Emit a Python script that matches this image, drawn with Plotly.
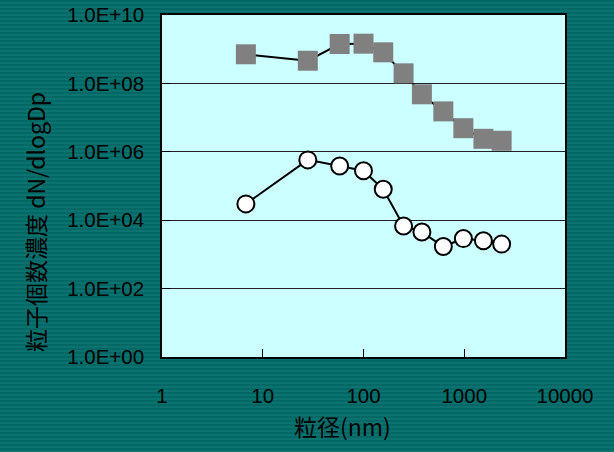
import plotly.graph_objects as go

# Data
diameter_nm = [6.8, 28, 58, 100, 157, 250, 380, 620, 980, 1550, 2350]
series_square = [7.1e8, 4.6e8, 1.42e9, 1.45e9, 8.1e8, 1.97e8, 4.8e7, 1.52e7, 4.9e6, 2.4e6, 2.1e6]
series_circle = [3.0e4, 5.8e5, 3.85e5, 2.8e5, 8.0e4, 6.8e3, 4.5e3, 1.7e3, 2.9e3, 2.5e3, 2.0e3]

x_tickvals = [1, 10, 100, 1000, 10000]
x_ticktext = ["1", "10", "100", "1000", "10000"]
y_tickvals = [1e0, 1e2, 1e4, 1e6, 1e8, 1e10]
y_ticktext = ["1.0E+00", "1.0E+02", "1.0E+04", "1.0E+06", "1.0E+08", "1.0E+10"]

x_title = "粒径(nm)"
y_title = "粒子個数濃度 dN/dlogDp"

font_main = "Liberation Sans, Arial, Noto Sans CJK JP, sans-serif"
font_cjk = "Noto Sans CJK JP, sans-serif"

fig = go.Figure()
fig.add_trace(go.Scatter(
    x=diameter_nm, y=series_square, mode="lines+markers",
    line=dict(color="black", width=2),
    marker=dict(symbol="square", size=20, color="#808080", line=dict(width=0)),
    showlegend=False,
))
fig.add_trace(go.Scatter(
    x=diameter_nm, y=series_circle, mode="lines+markers",
    line=dict(color="black", width=2),
    marker=dict(symbol="circle", size=17, color="white", line=dict(color="black", width=2)),
    showlegend=False,
))

# subtle striped teal background (decoration only)
PL, PR, PT, PB = 162, 565, 15, 357
pw, ph = PR - PL, PB - PT
shapes = []
for i in range(0, 452, 4):
    shapes.append(dict(type="rect", xref="paper", yref="paper", layer="below",
                       x0=-PL / pw, x1=(614 - PL) / pw,
                       y0=(PB - i - 2) / ph, y1=(PB - i) / ph,
                       fillcolor="#026865", line=dict(width=0)))
# plot-area fill drawn over the stripes
shapes.append(dict(type="rect", xref="paper", yref="paper", layer="below",
                   x0=0, x1=1, y0=0, y1=1, fillcolor="#ccffff", line=dict(width=0)))

fig.update_layout(
    width=614, height=452,
    margin=dict(l=PL, r=614 - PR, t=PT, b=452 - PB),
    paper_bgcolor="#0a7370",
    plot_bgcolor="#ccffff",
    font=dict(family=font_main, size=20, color="black"),
    shapes=shapes,
    xaxis=dict(
        type="log", range=[0, 4], automargin=False,
        tickvals=x_tickvals, ticktext=x_ticktext,
        ticks="inside", ticklen=8, tickcolor="black", tickwidth=1,
        showgrid=False, zeroline=False,
        showline=True, linecolor="black", linewidth=2, mirror=True,
        tickfont=dict(size=20.5, family=font_main),
        ticklabelstandoff=19,
    ),
    yaxis=dict(
        type="log", range=[0, 10], automargin=False,
        tickvals=y_tickvals, ticktext=y_ticktext,
        ticks="inside", ticklen=8, tickcolor="black", tickwidth=1,
        showgrid=True, gridcolor="#222222", gridwidth=1,
        zeroline=False,
        showline=True, linecolor="black", linewidth=1.5, mirror=True,
        tickfont=dict(size=20.5, family=font_main),
        ticklabelstandoff=12,
    ),
    annotations=[
        dict(text=x_title, xref="paper", yref="paper",
             x=(342 - PL) / pw, y=-(426 - PB) / ph,
             xanchor="center", yanchor="middle", showarrow=False,
             font=dict(size=23, family=font_cjk)),
        dict(text=y_title, xref="paper", yref="paper",
             x=-(PL - 35) / pw, y=(PB - 222) / ph,
             xanchor="center", yanchor="middle", showarrow=False, textangle=-90,
             font=dict(size=23, family=font_cjk)),
    ],
)

fig.write_html("out.html")
